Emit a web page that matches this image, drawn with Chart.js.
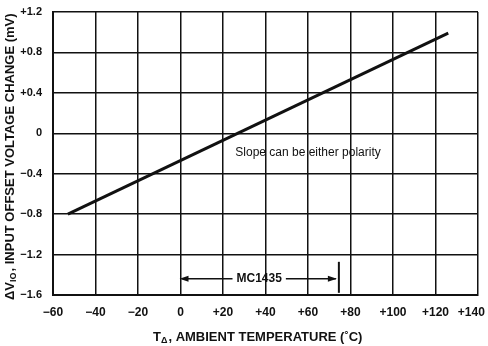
<!DOCTYPE html>
<html>
<head>
<meta charset="utf-8">
<script src="https://cdn.jsdelivr.net/npm/chart.js@4"></script>
<style>
  html, body { margin: 0; padding: 0; background: #fff; }
  #wrap { width: 488px; height: 346px; position: relative; }
</style>
</head>
<body>
<div id="wrap"><canvas id="chart"></canvas></div>
<script>
// data
const tempPoints = [-53, 126];
const offsetPoints = [-0.8, 0.99];
const xTicks = [-60, -40, -20, 0, 20, 40, 60, 80, 100, 120, 140];
const yTicks = [-1.6, -1.2, -0.8, -0.4, 0, 0.4, 0.8, 1.2];
const rangeStart = 0;   // MC1435 range arrow
const rangeEnd = 75;
const rangeLevel = -1.44;
const rangeLabel = 'MC1435';
const noteText = 'Slope can be either polarity';
const noteAt = [60, -0.19];

const ink = '#111';
const font = '"Liberation Sans", Arial, sans-serif';

function signed(v, digits) {
  if (Math.abs(v) < 1e-9) return '0';
  const s = Math.abs(v).toFixed(digits);
  return (v > 0 ? '+' : '\u2212') + s;
}

// titles + annotations drawn on the canvas
const extras = {
  id: 'extras',
  afterDraw(chart) {
    const ctx = chart.ctx;
    const x = chart.scales.x, y = chart.scales.y;
    ctx.save();
    ctx.fillStyle = ink;
    ctx.strokeStyle = ink;

    // note text
    ctx.font = '12px ' + font;
    ctx.textAlign = 'center';
    ctx.textBaseline = 'middle';
    ctx.fillText(noteText, x.getPixelForValue(noteAt[0]), y.getPixelForValue(noteAt[1]));

    // MC1435 range arrow
    const x0 = x.getPixelForValue(rangeStart);
    const x1 = x.getPixelForValue(rangeEnd);
    const yy = y.getPixelForValue(rangeLevel);
    ctx.font = 'bold 12px ' + font;
    const tw = ctx.measureText(rangeLabel).width;
    const xc = (x0 + x1) / 2 - 1;
    ctx.fillText(rangeLabel, xc, yy);
    ctx.lineWidth = 1.5;
    ctx.beginPath();
    ctx.moveTo(x0 + 2, yy); ctx.lineTo(xc - tw / 2 - 4, yy);
    ctx.moveTo(xc + tw / 2 + 4, yy); ctx.lineTo(x1 - 4, yy);
    ctx.stroke();
    ctx.beginPath();
    ctx.moveTo(x0 - 1, yy); ctx.lineTo(x0 + 8, yy - 3); ctx.lineTo(x0 + 8, yy + 3); ctx.closePath();
    ctx.moveTo(x1 - 3, yy); ctx.lineTo(x1 - 12, yy - 3); ctx.lineTo(x1 - 12, yy + 3); ctx.closePath();
    ctx.fill();
    ctx.lineWidth = 2;
    ctx.beginPath();
    ctx.moveTo(x1 - 1, yy - 17); ctx.lineTo(x1 - 1, yy + 14);
    ctx.stroke();

    // x title with subscript
    ctx.textAlign = 'left';
    ctx.textBaseline = 'alphabetic';
    const p1 = 'T', sub = '\u0394', p2 = ', AMBIENT TEMPERATURE (\u02DAC)';
    ctx.font = 'bold 9px ' + font;
    const wSub = ctx.measureText(sub).width;
    ctx.font = 'bold 13px ' + font;
    const w1 = ctx.measureText(p1).width;
    let tx = 153;
    const ty = 341;
    ctx.fillText(p1, tx, ty); tx += w1;
    ctx.font = 'bold 9px ' + font;
    ctx.fillText(sub, tx, ty + 2); tx += wSub + 1;
    ctx.font = 'bold 13px ' + font;
    ctx.fillText(p2, tx, ty);

    // y title, rotated, with subscript
    ctx.translate(14, 300);
    ctx.rotate(-Math.PI / 2);
    const q0 = '\u0394V', qs = 'IO', q2 = ', INPUT OFFSET VOLTAGE CHANGE (mV)';
    ctx.font = 'bold 13px ' + font;
    const w0 = ctx.measureText(q0).width;
    ctx.font = 'bold 9px ' + font;
    const ws = ctx.measureText(qs).width;
    let ux = 0;
    ctx.font = 'bold 13px ' + font;
    ctx.fillText(q0, ux, 0); ux += w0;
    ctx.font = 'bold 9px ' + font;
    ctx.fillText(qs, ux, 2); ux += ws + 1;
    ctx.font = 'bold 13px ' + font;
    ctx.fillText(q2, ux, 0);
    ctx.restore();
  }
};

new Chart(document.getElementById('chart'), {
  type: 'scatter',
  data: {
    datasets: [{
      data: tempPoints.map((t, i) => ({ x: t, y: offsetPoints[i] })),
      showLine: true,
      borderColor: ink,
      borderWidth: 3,
      pointRadius: 0
    }]
  },
  options: {
    responsive: true,
    maintainAspectRatio: false,
    animation: false,
    layout: { padding: { top: 12, right: 10, left: 0, bottom: 0 } },
    plugins: { legend: { display: false }, tooltip: { enabled: false } },
    scales: {
      x: {
        type: 'linear',
        min: -60, max: 140,
        afterBuildTicks: s => { s.ticks = xTicks.map(v => ({ value: v })); },
        afterFit: s => { s.height = 51; s.paddingLeft = 0; s.paddingRight = 0; },
        grid: { color: ink, lineWidth: 1.5, drawTicks: false },
        border: { color: ink, width: 2 },
        ticks: {
          color: ink, padding: 10,
          font: { family: font, size: 12, weight: 'bold' },
          maxRotation: 0, autoSkip: false,
          // last label nudged left so it stays on the canvas
          callback: v => signed(v, 0) + (v === xTicks[xTicks.length - 1] ? '\u2007\u2007' : '')
        }
      },
      y: {
        type: 'linear',
        min: -1.6, max: 1.2,
        afterBuildTicks: s => { s.ticks = yTicks.map(v => ({ value: v })); },
        afterFit: s => { s.width = 53; s.paddingTop = 0; s.paddingBottom = 0; },
        grid: { color: ink, lineWidth: 1.5, drawTicks: false },
        border: { color: ink, width: 2 },
        ticks: {
          color: ink, padding: 11,
          font: { family: font, size: 11, weight: 'bold' },
          autoSkip: false,
          callback: v => signed(v, 1)
        }
      }
    }
  },
  plugins: [extras]
});
</script>
</body>
</html>
